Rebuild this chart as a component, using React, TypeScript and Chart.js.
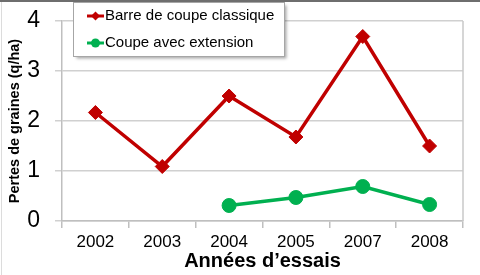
import React, { useEffect, useRef } from "react";
import { Chart, registerables } from "chart.js";
Chart.register(...registerables);

const years = ["2002", "2003", "2004", "2005", "2007", "2008"];
const classique = [2.17, 1.09, 2.5, 1.68, 3.69, 1.5];
const extension = [null, null, 0.31, 0.47, 0.69, 0.33];
const seriesNames = ["Barre de coupe classique", "Coupe avec extension"];
const yTitle = "Pertes de graines (q/ha)";
const xTitle = "Années d’essais";

const RED = "#C00000";
const GREEN = "#00B050";
const FAMILY = "'Liberation Sans', Arial, sans-serif";

const framePlugin = {
  id: "frameAndLegend",
  beforeDatasetsDraw(chart: any) {
    const { ctx, chartArea } = chart;
    ctx.save();
    ctx.strokeStyle = "#c8c8c8";
    ctx.lineWidth = 1.5;
    ctx.beginPath();
    ctx.moveTo(chartArea.right, chartArea.top);
    ctx.lineTo(chartArea.right, chartArea.bottom);
    ctx.stroke();
    ctx.restore();
  },
  afterDraw(chart: any) {
    const ctx = chart.ctx;
    ctx.save();
    // outer frame
    ctx.fillStyle = "#6e6e6e";
    ctx.fillRect(0, 0, 480, 2);
    ctx.fillStyle = "#dcdcdc";
    ctx.fillRect(1, 2, 1, 273);
    // legend box
    const bx = 73.5, by = 2.5, bw = 211, bh = 54;
    ctx.shadowColor = "rgba(0,0,0,0.35)";
    ctx.shadowOffsetX = 2;
    ctx.shadowOffsetY = 2;
    ctx.shadowBlur = 3;
    ctx.fillStyle = "#ffffff";
    ctx.fillRect(bx, by, bw, bh);
    ctx.shadowColor = "transparent";
    ctx.strokeStyle = "#a6a6a6";
    ctx.lineWidth = 1;
    ctx.strokeRect(bx, by, bw, bh);
    const colors = [RED, GREEN];
    const ys = [16, 43];
    seriesNames.forEach((name, i) => {
      const y = ys[i];
      ctx.strokeStyle = colors[i];
      ctx.fillStyle = colors[i];
      ctx.lineWidth = 3;
      ctx.beginPath();
      ctx.moveTo(87, y);
      ctx.lineTo(104, y);
      ctx.stroke();
      ctx.beginPath();
      if (i === 0) {
        const r = 4.5;
        ctx.moveTo(95.5, y - r);
        ctx.lineTo(95.5 + r, y);
        ctx.lineTo(95.5, y + r);
        ctx.lineTo(95.5 - r, y);
        ctx.closePath();
      } else {
        ctx.arc(95.5, y, 4.5, 0, Math.PI * 2);
      }
      ctx.fill();
      ctx.fillStyle = "#000";
      ctx.font = `15px ${FAMILY}`;
      ctx.textBaseline = "middle";
      ctx.textAlign = "left";
      ctx.fillText(name, 105, y);
    });
    ctx.restore();
  },
};

export default function App() {
  const ref = useRef<HTMLCanvasElement>(null);
  useEffect(() => {
    document.body.style.margin = "0";
    const chart = new Chart(ref.current!, {
      type: "line",
      data: {
        labels: years,
        datasets: [
          {
            label: seriesNames[0],
            data: classique,
            borderColor: RED,
            backgroundColor: RED,
            borderWidth: 3.5,
            pointStyle: "rectRot",
            pointRadius: 7,
            pointBorderWidth: 1,
            tension: 0,
          },
          {
            label: seriesNames[1],
            data: extension as any,
            borderColor: GREEN,
            backgroundColor: GREEN,
            borderWidth: 3.5,
            pointStyle: "circle",
            pointRadius: 7,
            pointBorderWidth: 1,
            tension: 0,
          },
        ],
      },
      options: {
        animation: false,
        responsive: false,
        layout: { padding: { left: 0, right: 17, top: 21, bottom: 0 } },
        plugins: { legend: { display: false }, tooltip: { enabled: false } },
        scales: {
          x: {
            offset: true,
            grid: {
              offset: true,
              drawOnChartArea: false,
              drawTicks: true,
              tickLength: 7,
              color: "#bfbfbf",
              lineWidth: 1.5,
            },
            border: { color: "#bfbfbf", width: 1.5 },
            ticks: {
              font: { size: 17, family: FAMILY },
              color: "#000",
              padding: 4,
              maxRotation: 0,
            },
            title: {
              display: true,
              text: xTitle,
              font: { size: 20, weight: "bold", family: FAMILY },
              color: "#000",
              padding: { top: 0, bottom: 2 },
            },
            afterFit(s: any) {
              s.height = 54;
            },
          },
          y: {
            min: 0,
            max: 4,
            ticks: {
              stepSize: 1,
              font: { size: 23, family: FAMILY },
              color: "#000",
              padding: 15,
            },
            grid: { color: "#d0d0d0", tickLength: 7, lineWidth: 1.5 },
            border: { color: "#bfbfbf", width: 1.5 },
            title: {
              display: true,
              text: yTitle,
              font: { size: 14.5, weight: "bold", family: FAMILY },
              color: "#000",
              padding: { top: 6, bottom: 0 },
            },
            afterFit(s: any) {
              s.width = 62;
              s.paddingTop = 10;
              s.paddingBottom = 10;
            },
          },
        },
      },
      plugins: [framePlugin],
    });
    return () => chart.destroy();
  }, []);
  return <canvas ref={ref} width={480} height={275} style={{ display: "block" }} />;
}
